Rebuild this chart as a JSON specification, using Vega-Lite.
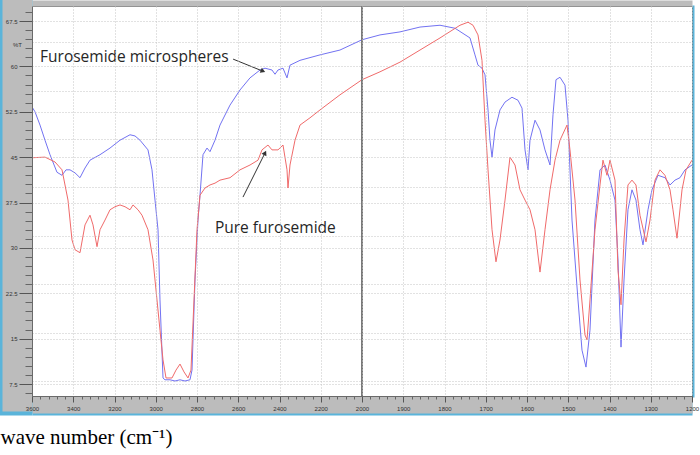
{
  "$schema": "https://vega.github.io/schema/vega-lite/v6.json",
  "width": 660,
  "height": 390,
  "autosize": {"type": "none"},
  "padding": {"left": 32, "top": 6, "right": 8, "bottom": 59},
  "background": "white",
  "config": {
    "view": {"fill": "white", "stroke": "#6a6a6a", "strokeWidth": 1}
  },
  "datasets": {
    "spec": [
      {"s":"micro","wn":3600,"t":53.3},{"s":"micro","wn":3585.5,"t":52.5},{"s":"micro","wn":3561.2,"t":50.3},{"s":"micro","wn":3537,"t":47.8},{"s":"micro","wn":3512.7,"t":45.4},{"s":"micro","wn":3478.8,"t":42.5},{"s":"micro","wn":3454.5,"t":42.0},{"s":"micro","wn":3435,"t":42.9},{"s":"micro","wn":3415.8,"t":42.9},{"s":"micro","wn":3391.5,"t":42.4},{"s":"micro","wn":3367.3,"t":41.6},{"s":"micro","wn":3343,"t":43.2},{"s":"micro","wn":3318.8,"t":44.5},{"s":"micro","wn":3270.3,"t":45.4},{"s":"micro","wn":3221.8,"t":46.5},{"s":"micro","wn":3173.3,"t":47.8},{"s":"micro","wn":3124.8,"t":48.7},{"s":"micro","wn":3100.6,"t":48.5},{"s":"micro","wn":3076.4,"t":47.8},{"s":"micro","wn":3037.6,"t":46.2},{"s":"micro","wn":3018.2,"t":42.9},{"s":"micro","wn":3003.6,"t":37.9},{"s":"micro","wn":2989,"t":33.0},{"s":"micro","wn":2979.4,"t":21.4},{"s":"micro","wn":2964.8,"t":8.5},{"s":"micro","wn":2955.2,"t":8.2},{"s":"micro","wn":2930.9,"t":8.2},{"s":"micro","wn":2906.7,"t":8.0},{"s":"micro","wn":2882.4,"t":8.2},{"s":"micro","wn":2858.2,"t":8.0},{"s":"micro","wn":2834,"t":8.2},{"s":"micro","wn":2824.2,"t":9.8},{"s":"micro","wn":2809.7,"t":24.7},{"s":"micro","wn":2795.2,"t":34.6},{"s":"micro","wn":2785.5,"t":38.7},{"s":"micro","wn":2770.9,"t":45.4},{"s":"micro","wn":2751.5,"t":46.5},{"s":"micro","wn":2737,"t":45.9},{"s":"micro","wn":2712.7,"t":47.8},{"s":"micro","wn":2688.5,"t":50.3},{"s":"micro","wn":2640,"t":53.6},{"s":"micro","wn":2591.5,"t":56.1},{"s":"micro","wn":2543,"t":58.1},{"s":"micro","wn":2494.5,"t":59.4},{"s":"micro","wn":2470.3,"t":59.7},{"s":"micro","wn":2436.4,"t":59.4},{"s":"micro","wn":2421.8,"t":58.7},{"s":"micro","wn":2407.3,"t":59.4},{"s":"micro","wn":2383,"t":59.7},{"s":"micro","wn":2363.6,"t":58.1},{"s":"micro","wn":2349.1,"t":60.2},{"s":"micro","wn":2300.6,"t":61.0},{"s":"micro","wn":2203.6,"t":61.9},{"s":"micro","wn":2106.7,"t":62.7},{"s":"micro","wn":2000,"t":64.4},{"s":"micro","wn":1956.4,"t":65.2},{"s":"micro","wn":1907.9,"t":65.7},{"s":"micro","wn":1859.4,"t":66.5},{"s":"micro","wn":1810.9,"t":66.8},{"s":"micro","wn":1774.5,"t":66.3},{"s":"micro","wn":1738.2,"t":64.7},{"s":"micro","wn":1726.1,"t":61.9},{"s":"micro","wn":1718.8,"t":60.2},{"s":"micro","wn":1709.1,"t":59.7},{"s":"micro","wn":1701.8,"t":58.6},{"s":"micro","wn":1694.5,"t":52.8},{"s":"micro","wn":1689.7,"t":47.8},{"s":"micro","wn":1684.8,"t":45.0},{"s":"micro","wn":1677.6,"t":49.5},{"s":"micro","wn":1665.5,"t":52.8},{"s":"micro","wn":1653.3,"t":54.1},{"s":"micro","wn":1636.4,"t":54.9},{"s":"micro","wn":1621.8,"t":54.4},{"s":"micro","wn":1612.1,"t":53.1},{"s":"micro","wn":1604.8,"t":46.2},{"s":"micro","wn":1597.6,"t":42.9},{"s":"micro","wn":1592.7,"t":47.8},{"s":"micro","wn":1580.6,"t":51.1},{"s":"micro","wn":1568.5,"t":49.5},{"s":"micro","wn":1556.4,"t":46.2},{"s":"micro","wn":1544.2,"t":43.7},{"s":"micro","wn":1537,"t":52.0},{"s":"micro","wn":1529.7,"t":57.8},{"s":"micro","wn":1520,"t":58.2},{"s":"micro","wn":1507.9,"t":56.9},{"s":"micro","wn":1500.6,"t":51.1},{"s":"micro","wn":1490.9,"t":34.6},{"s":"micro","wn":1476.4,"t":21.4},{"s":"micro","wn":1466.7,"t":13.1},{"s":"micro","wn":1457,"t":10.3},{"s":"micro","wn":1447.3,"t":16.4},{"s":"micro","wn":1435.2,"t":34.6},{"s":"micro","wn":1423,"t":42.9},{"s":"micro","wn":1410.9,"t":43.7},{"s":"micro","wn":1398.8,"t":41.2},{"s":"micro","wn":1386.7,"t":37.9},{"s":"micro","wn":1379.4,"t":28.0},{"s":"micro","wn":1372.1,"t":13.6},{"s":"micro","wn":1364.8,"t":24.7},{"s":"micro","wn":1355.2,"t":36.3},{"s":"micro","wn":1345.5,"t":39.6},{"s":"micro","wn":1335.8,"t":37.9},{"s":"micro","wn":1326.1,"t":33.0},{"s":"micro","wn":1318.8,"t":30.5},{"s":"micro","wn":1306.7,"t":36.3},{"s":"micro","wn":1297,"t":39.6},{"s":"micro","wn":1282.4,"t":42.0},{"s":"micro","wn":1265.5,"t":41.6},{"s":"micro","wn":1253.3,"t":40.4},{"s":"micro","wn":1241.2,"t":41.2},{"s":"micro","wn":1229.1,"t":41.6},{"s":"micro","wn":1216.9,"t":42.9},{"s":"micro","wn":1200,"t":43.7},
      {"s":"pure","wn":3600,"t":44.9},{"s":"pure","wn":3537,"t":45.0},{"s":"pure","wn":3488.5,"t":44.2},{"s":"pure","wn":3454.5,"t":42.9},{"s":"pure","wn":3425.5,"t":37.9},{"s":"pure","wn":3406,"t":31.3},{"s":"pure","wn":3391.5,"t":29.7},{"s":"pure","wn":3367.3,"t":29.2},{"s":"pure","wn":3343,"t":33.8},{"s":"pure","wn":3318.8,"t":35.4},{"s":"pure","wn":3304.2,"t":33.8},{"s":"pure","wn":3284.8,"t":30.2},{"s":"pure","wn":3270.3,"t":33.0},{"s":"pure","wn":3246,"t":34.6},{"s":"pure","wn":3221.8,"t":36.3},{"s":"pure","wn":3197.6,"t":36.8},{"s":"pure","wn":3173.3,"t":37.1},{"s":"pure","wn":3149,"t":36.8},{"s":"pure","wn":3124.8,"t":36.3},{"s":"pure","wn":3110.3,"t":37.1},{"s":"pure","wn":3086,"t":36.3},{"s":"pure","wn":3066.7,"t":35.4},{"s":"pure","wn":3037.6,"t":33.0},{"s":"pure","wn":3013.3,"t":28.0},{"s":"pure","wn":2994,"t":21.4},{"s":"pure","wn":2979.4,"t":16.4},{"s":"pure","wn":2964.8,"t":11.5},{"s":"pure","wn":2950.3,"t":8.5},{"s":"pure","wn":2921.2,"t":8.5},{"s":"pure","wn":2901.8,"t":9.8},{"s":"pure","wn":2882.4,"t":10.8},{"s":"pure","wn":2863,"t":9.5},{"s":"pure","wn":2843.6,"t":8.5},{"s":"pure","wn":2829.1,"t":9.8},{"s":"pure","wn":2814.5,"t":21.4},{"s":"pure","wn":2800,"t":33.0},{"s":"pure","wn":2785.5,"t":38.7},{"s":"pure","wn":2761.2,"t":39.9},{"s":"pure","wn":2737,"t":40.4},{"s":"pure","wn":2712.7,"t":40.7},{"s":"pure","wn":2688.5,"t":41.2},{"s":"pure","wn":2640,"t":41.6},{"s":"pure","wn":2591.5,"t":42.9},{"s":"pure","wn":2543,"t":43.7},{"s":"pure","wn":2504.2,"t":44.5},{"s":"pure","wn":2484.8,"t":46.2},{"s":"pure","wn":2455.8,"t":47.0},{"s":"pure","wn":2436.4,"t":46.2},{"s":"pure","wn":2407.3,"t":46.2},{"s":"pure","wn":2383,"t":47.0},{"s":"pure","wn":2363.6,"t":42.9},{"s":"pure","wn":2358.8,"t":39.9},{"s":"pure","wn":2349.1,"t":43.7},{"s":"pure","wn":2324.8,"t":47.8},{"s":"pure","wn":2300.6,"t":50.3},{"s":"pure","wn":2252.1,"t":51.5},{"s":"pure","wn":2203.6,"t":52.8},{"s":"pure","wn":2106.7,"t":55.3},{"s":"pure","wn":2000,"t":57.8},{"s":"pure","wn":1956.4,"t":59.1},{"s":"pure","wn":1907.9,"t":60.7},{"s":"pure","wn":1859.4,"t":62.7},{"s":"pure","wn":1810.9,"t":64.7},{"s":"pure","wn":1762.4,"t":66.8},{"s":"pure","wn":1743,"t":67.3},{"s":"pure","wn":1730.9,"t":66.8},{"s":"pure","wn":1718.8,"t":65.2},{"s":"pure","wn":1709.1,"t":61.0},{"s":"pure","wn":1701.8,"t":51.1},{"s":"pure","wn":1694.5,"t":42.9},{"s":"pure","wn":1684.8,"t":33.0},{"s":"pure","wn":1675.2,"t":27.7},{"s":"pure","wn":1665.5,"t":31.3},{"s":"pure","wn":1653.3,"t":37.9},{"s":"pure","wn":1641.2,"t":45.0},{"s":"pure","wn":1629.1,"t":43.7},{"s":"pure","wn":1617,"t":39.6},{"s":"pure","wn":1604.8,"t":37.9},{"s":"pure","wn":1592.7,"t":36.3},{"s":"pure","wn":1580.6,"t":33.0},{"s":"pure","wn":1568.5,"t":26.0},{"s":"pure","wn":1556.4,"t":33.0},{"s":"pure","wn":1544.2,"t":39.6},{"s":"pure","wn":1532.1,"t":44.5},{"s":"pure","wn":1520,"t":47.8},{"s":"pure","wn":1503,"t":50.3},{"s":"pure","wn":1495.8,"t":46.2},{"s":"pure","wn":1483.6,"t":37.9},{"s":"pure","wn":1471.5,"t":24.7},{"s":"pure","wn":1459.4,"t":15.6},{"s":"pure","wn":1454.5,"t":14.8},{"s":"pure","wn":1447.3,"t":21.4},{"s":"pure","wn":1435.2,"t":33.0},{"s":"pure","wn":1423,"t":40.4},{"s":"pure","wn":1415.8,"t":44.5},{"s":"pure","wn":1406.1,"t":42.0},{"s":"pure","wn":1398.8,"t":44.5},{"s":"pure","wn":1386.7,"t":41.2},{"s":"pure","wn":1379.4,"t":26.3},{"s":"pure","wn":1372.1,"t":20.6},{"s":"pure","wn":1364.8,"t":31.3},{"s":"pure","wn":1355.2,"t":40.4},{"s":"pure","wn":1345.5,"t":41.2},{"s":"pure","wn":1335.8,"t":40.4},{"s":"pure","wn":1326.1,"t":35.4},{"s":"pure","wn":1311.5,"t":31.0},{"s":"pure","wn":1301.8,"t":34.6},{"s":"pure","wn":1289.7,"t":41.2},{"s":"pure","wn":1277.6,"t":42.9},{"s":"pure","wn":1265.5,"t":42.0},{"s":"pure","wn":1253.3,"t":39.6},{"s":"pure","wn":1246.1,"t":36.3},{"s":"pure","wn":1236.4,"t":31.6},{"s":"pure","wn":1224.2,"t":39.6},{"s":"pure","wn":1214.5,"t":42.9},{"s":"pure","wn":1200,"t":44.5}
    ],
    "notes": [
      {"label": "Furosemide microspheres", "wn": 3561, "t": 61.5},
      {"label": "Pure furosemide", "wn": 2713, "t": 33.3}
    ],
    "arrows": [
      {"name": "micro", "wn": 2625, "t": 61.2, "wn2": 2480, "t2": 59.2},
      {"name": "pure", "wn": 2577, "t": 38.4, "wn2": 2470, "t2": 45.7}
    ]
  },
  "layer": [
    {
      "data": {"name": "spec"},
      "transform": [{"filter": "datum.s == 'micro'"}],
      "mark": {"type": "line", "color": "#7272f2", "strokeWidth": 1, "clip": true},
      "encoding": {
        "x": {"field": "wn", "type": "quantitative",
              "scale": {"domain": [3600, 2000, 1200], "range": [0, 330, 660], "nice": false, "zero": false},
              "axis": {"orient": "bottom", "zindex": 0, "offset": 9.5, "domain": true, "domainColor": "#5ab4da", "domainOpacity": 1, "domainWidth": 19, "domainCap": "butt", "ticks": false, "labels": false, "grid": false, "title": null}},
        "y": {"field": "t", "type": "quantitative",
              "scale": {"domain": [5.52, 69.98], "nice": false, "zero": false},
              "axis": {"orient": "left", "zindex": 0, "offset": 19, "domain": true, "domainColor": "#5ab4da", "domainOpacity": 1, "domainWidth": 38, "domainCap": "square", "ticks": false, "labels": false, "grid": false, "title": null}}
      }
    },
    {
      "data": {"name": "spec"},
      "transform": [{"filter": "datum.s == 'pure'"}],
      "mark": {"type": "line", "color": "#f06a6a", "strokeWidth": 1, "clip": true},
      "encoding": {
        "x": {"field": "wn", "type": "quantitative",
              "scale": {"domain": [3600, 2000, 1200], "range": [0, 330, 660], "nice": false, "zero": false},
              "axis": {"orient": "bottom", "zindex": 0, "offset": 8.5, "domain": true, "domainColor": "#bcbcbc", "domainOpacity": 1, "domainWidth": 17, "domainCap": "butt", "ticks": false, "labels": false, "grid": false, "title": null}},
        "y": {"field": "t", "type": "quantitative",
              "scale": {"domain": [5.52, 69.98], "nice": false, "zero": false},
              "axis": {"orient": "left", "zindex": 0, "offset": 15, "domain": true, "domainColor": "#bcbcbc", "domainOpacity": 1, "domainWidth": 30, "domainCap": "square", "ticks": false, "labels": false, "grid": false, "title": null}}
      }
    },
    {
      "data": {"name": "notes"},
      "mark": {"type": "text", "align": "left", "baseline": "middle", "font": "Open Sans", "fontSize": 15.5, "color": "#262626"},
      "encoding": {
        "x": {"field": "wn", "type": "quantitative",
              "scale": {"domain": [3600, 2000, 1200], "range": [0, 330, 660], "nice": false, "zero": false},
              "axis": {"orient": "top", "zindex": 0, "offset": 3, "domain": true, "domainColor": "#bcbcbc", "domainOpacity": 1, "domainWidth": 6, "domainCap": "butt", "ticks": false, "labels": false, "grid": false, "title": null}},
        "y": {"field": "t", "type": "quantitative",
              "scale": {"domain": [5.52, 69.98], "nice": false, "zero": false},
              "axis": {"orient": "left", "zindex": 0, "values": [8, 16, 24, 32, 40, 48, 56, 64], "domain": false, "ticks": false, "labels": false, "grid": true, "gridColor": "#c4c4c4", "gridDash": [1, 2], "title": null}},
        "text": {"field": "label"}
      }
    },
    {
      "data": {"name": "arrows"},
      "mark": {"type": "rule", "color": "#333333", "strokeWidth": 1},
      "encoding": {
        "x": {"field": "wn", "type": "quantitative",
              "scale": {"domain": [3600, 2000, 1200], "range": [0, 330, 660], "nice": false, "zero": false},
              "axis": {"orient": "bottom", "zindex": 1, "values": [3600,3560,3520,3480,3440,3400,3360,3320,3280,3240,3200,3160,3120,3080,3040,3000,2960,2920,2880,2840,2800,2760,2720,2680,2640,2600,2560,2520,2480,2440,2400,2360,2320,2280,2240,2200,2160,2120,2080,2040,2000,1980,1960,1940,1920,1900,1880,1860,1840,1820,1800,1780,1760,1740,1720,1700,1680,1660,1640,1620,1600,1580,1560,1540,1520,1500,1480,1460,1440,1420,1400,1380,1360,1340,1320,1300,1280,1260,1240,1220,1200], "domain": false, "ticks": true, "tickSize": 3, "tickColor": "#666666", "labels": false, "grid": false, "title": null}},
        "y": {"field": "t", "type": "quantitative",
              "scale": {"domain": [5.52, 69.98], "nice": false, "zero": false},
              "axis": {"orient": "left", "zindex": 1, "values": [6,7.5,9,10.5,12,13.5,15,16.5,18,19.5,21,22.5,24,25.5,27,28.5,30,31.5,33,34.5,36,37.5,39,40.5,42,43.5,45,46.5,48,49.5,51,52.5,54,55.5,57,58.5,60,61.5,63,64.5,66,67.5,69], "domain": false, "ticks": true, "tickSize": 7, "tickColor": "#666666", "labels": false, "grid": false, "title": null}},
        "x2": {"field": "wn2"},
        "y2": {"field": "t2"}
      }
    },
    {
      "data": {"name": "arrows"},
      "transform": [{"filter": "datum.name == 'micro'"}],
      "mark": {"type": "point", "shape": "triangle-right", "filled": true, "color": "#333333", "size": 30, "opacity": 1, "angle": 22},
      "encoding": {
        "x": {"field": "wn2", "type": "quantitative",
              "scale": {"domain": [3600, 2000, 1200], "range": [0, 330, 660], "nice": false, "zero": false},
              "axis": {"orient": "bottom", "zindex": 1, "values": [3600,3400,3200,3000,2800,2600,2400,2200,2000,1900,1800,1700,1600,1500,1400,1300,1200], "labelExpr": "'' + datum.value", "labelFont": "Liberation Sans", "labelFontSize": 6, "labelColor": "#333333", "labelPadding": 3, "labelFlush": false, "labelOverlap": false, "tickSize": 6, "tickColor": "#555555", "domain": true, "domainColor": "#6a6a6a", "grid": true, "gridColor": "#c4c4c4", "gridDash": [1, 2], "title": "wave number (cm⁻¹)", "titleFont": "Liberation Serif", "titleFontSize": 21, "titleFontWeight": "normal", "titleColor": "#000000", "titleX": -32, "titleY": 47, "titleAlign": "left", "titleBaseline": "alphabetic", "titleAnchor": "start"}},
        "y": {"field": "t2", "type": "quantitative",
              "scale": {"domain": [5.52, 69.98], "nice": false, "zero": false},
              "axis": {"orient": "left", "zindex": 1, "values": [7.5, 15, 22.5, 30, 37.5, 45, 52.5, 60, 67.5], "labelExpr": "'' + datum.value", "labelFont": "Liberation Sans", "labelFontSize": 6, "labelColor": "#333333", "labelPadding": 2, "labelOverlap": false, "labelFlush": false, "tickSize": 13, "tickColor": "#555555", "domain": true, "domainColor": "#6a6a6a", "grid": true, "gridColor": "#c4c4c4", "gridDash": [1, 2], "title": "%T", "titleFont": "Liberation Sans", "titleFontSize": 6, "titleFontWeight": "normal", "titleColor": "#333333", "titleAngle": 0, "titleX": -15, "titleY": 38, "titleAlign": "center", "titleBaseline": "middle"}}
      }
    },
    {
      "data": {"name": "arrows"},
      "transform": [{"filter": "datum.name == 'pure'"}],
      "mark": {"type": "point", "shape": "triangle-right", "filled": true, "color": "#333333", "size": 30, "opacity": 1, "angle": -63},
      "encoding": {
        "x": {"field": "wn2", "type": "quantitative",
              "scale": {"domain": [3600, 2000, 1200], "range": [0, 330, 660], "nice": false, "zero": false},
              "axis": null},
        "y": {"field": "t2", "type": "quantitative",
              "scale": {"domain": [5.52, 69.98], "nice": false, "zero": false},
              "axis": {"orient": "right", "zindex": 0, "offset": 1, "domain": true, "domainColor": "#5ab4da", "domainWidth": 2, "domainCap": "square", "ticks": false, "labels": false, "grid": false, "title": null}}
      }
    },
    {
      "data": {"values": [{"wn": 2000}]},
      "mark": {"type": "rule", "color": "#7a7a7a", "strokeWidth": 2},
      "encoding": {
        "x": {"field": "wn", "type": "quantitative",
              "scale": {"domain": [3600, 2000, 1200], "range": [0, 330, 660], "nice": false, "zero": false},
              "axis": null}
      }
    }
  ],
  "resolve": {"axis": {"x": "independent", "y": "independent"}}
}
